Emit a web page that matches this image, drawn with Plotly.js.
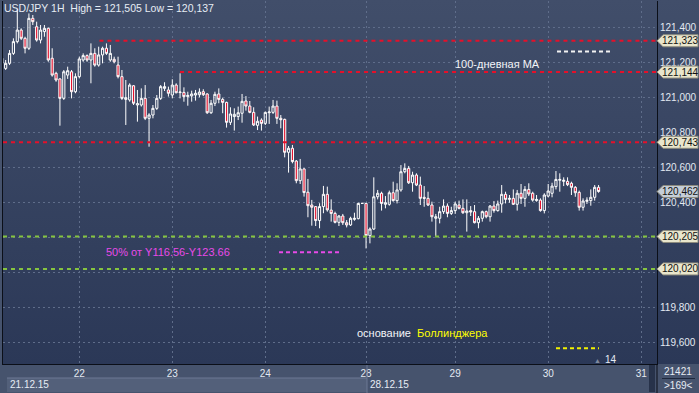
<!DOCTYPE html>
<html><head><meta charset="utf-8">
<script src="https://cdn.plot.ly/plotly-3.0.1.min.js"></script>
<style>
html,body{margin:0;padding:0;background:#46536d;}
#wrap{position:relative;width:699px;height:393px;overflow:hidden;
 background:linear-gradient(to bottom,#414e6a 0%,#2b3857 100%) 3px 0/696px 364px no-repeat,#46536d;}
#chart{position:absolute;left:0;top:0;width:699px;height:393px;}
</style></head>
<body><div id="wrap"><div id="chart"></div></div>
<script>
// ---- data (USD/JPY, 1H bars, 21.12.15 - 30.12.15) ----
const open = [121.194,121.165,121.194,121.251,121.318,121.384,121.337,121.280,121.451,121.403,121.327,121.375,121.394,121.223,121.137,121.105,120.994,121.127,121.146,121.032,121.118,121.213,121.238,121.213,121.251,121.184,121.242,121.280,121.213,121.217,121.184,121.118,120.988,120.985,121.066,120.956,120.956,120.994,120.880,120.899,120.937,120.994,121.051,121.042,
121.013,121.070,121.027,121.028,121.004,121.008,121.013,121.015,121.032,121.019,120.912,120.966,121.019,120.988,120.971,120.857,120.890,120.890,120.909,120.979,120.950,120.914,120.840,120.870,120.851,120.912,120.914,120.950,120.880,120.874,120.686,120.709,120.636,120.524,120.591,120.458,120.385,120.376,120.296,120.376,120.446,120.356,
120.337,120.286,120.322,120.284,120.271,120.303,120.307,120.394,120.394,120.210,120.248,120.432,120.452,120.389,120.389,120.455,120.410,120.471,120.575,120.594,120.512,120.556,120.499,120.429,120.423,120.385,120.309,120.309,120.347,120.379,120.337,120.353,120.385,120.366,120.341,120.353,120.347,120.284,120.309,120.347,120.318,120.379,120.353,120.391,120.446,120.417,120.423,120.389,120.452,120.423,120.474,120.452,120.410,120.413,120.353,120.436,120.452,120.490,120.526,120.520,120.520,120.509,120.486,120.457,120.372,120.406,120.410,120.429,120.486];
const high = [121.242,121.213,121.270,121.337,121.505,121.394,121.346,121.479,121.470,121.432,121.413,121.413,121.398,121.280,121.146,121.108,121.156,121.175,121.156,121.137,121.232,121.251,121.245,121.308,121.280,121.289,121.289,121.308,121.299,121.232,121.232,121.156,121.099,121.080,121.070,121.042,121.051,121.070,120.909,120.956,121.013,121.070,121.086,121.061,
121.103,121.080,121.137,121.057,121.032,121.038,121.042,121.051,121.046,121.023,120.985,121.032,121.051,120.998,120.975,120.943,120.937,120.947,121.019,121.007,120.979,120.943,120.890,120.880,120.918,120.947,120.985,120.981,120.899,120.878,120.722,120.728,120.642,120.648,120.595,120.534,120.414,120.376,120.395,120.494,120.490,120.417,
120.347,120.328,120.334,120.299,120.318,120.341,120.398,120.398,120.398,120.257,120.543,120.471,120.461,120.436,120.467,120.518,120.509,120.613,120.623,120.608,120.575,120.566,120.547,120.493,120.461,120.404,120.334,120.375,120.417,120.394,120.375,120.404,120.410,120.417,120.417,120.379,120.385,120.322,120.353,120.353,120.385,120.408,120.410,120.499,120.461,120.442,120.474,120.471,120.505,120.493,120.509,120.461,120.442,120.423,120.452,120.505,120.512,120.579,120.566,120.543,120.543,120.518,120.493,120.467,120.423,120.429,120.474,120.499,120.499];
const low = [121.156,121.156,121.184,121.242,121.308,121.327,121.251,121.270,121.413,121.318,121.308,121.346,121.203,121.118,121.089,120.838,120.985,121.105,120.994,121.023,121.108,121.203,121.203,121.080,121.175,121.175,121.194,121.242,121.203,121.194,121.108,120.985,120.842,120.975,120.956,120.861,120.947,120.870,120.718,120.880,120.928,120.985,121.036,121.004,
120.994,121.023,120.994,120.975,120.952,120.975,120.981,121.000,121.007,120.905,120.905,120.950,120.966,120.909,120.827,120.842,120.810,120.870,120.855,120.924,120.909,120.836,120.813,120.810,120.842,120.848,120.905,120.848,120.823,120.657,120.570,120.623,120.509,120.505,120.433,120.315,120.267,120.265,120.252,120.338,120.347,120.290,
120.280,120.265,120.271,120.257,120.265,120.295,120.303,120.391,120.137,120.166,120.242,120.417,120.353,120.366,120.381,120.404,120.394,120.461,120.566,120.505,120.461,120.493,120.385,120.375,120.379,120.290,120.208,120.280,120.334,120.315,120.328,120.334,120.360,120.334,120.233,120.322,120.280,120.252,120.290,120.309,120.290,120.341,120.347,120.341,120.394,120.398,120.385,120.353,120.391,120.375,120.436,120.404,120.404,120.347,120.337,120.429,120.429,120.474,120.461,120.493,120.493,120.442,120.432,120.353,120.353,120.391,120.381,120.410,120.455];
const close = [121.223,121.194,121.251,121.318,121.384,121.337,121.280,121.451,121.432,121.327,121.384,121.394,121.213,121.127,121.099,120.994,121.146,121.152,121.032,121.118,121.219,121.238,121.213,121.251,121.184,121.242,121.280,121.251,121.251,121.203,121.118,120.994,120.998,121.070,120.966,120.964,120.994,120.880,120.899,120.937,120.994,121.061,121.061,121.023,
121.070,121.026,121.030,121.004,121.011,121.019,121.023,121.030,121.015,120.912,120.966,121.017,120.988,120.971,120.857,120.905,120.903,120.912,120.977,120.950,120.914,120.842,120.863,120.851,120.914,120.916,120.950,120.880,120.872,120.686,120.709,120.633,120.524,120.591,120.456,120.381,120.372,120.296,120.376,120.446,120.357,120.337,
120.286,120.322,120.284,120.271,120.309,120.309,120.394,120.394,120.210,120.248,120.432,120.452,120.394,120.398,120.455,120.410,120.471,120.575,120.594,120.512,120.556,120.499,120.423,120.423,120.385,120.318,120.318,120.347,120.379,120.337,120.353,120.391,120.366,120.341,120.351,120.345,120.284,120.309,120.347,120.318,120.379,120.353,120.391,120.446,120.417,120.423,120.389,120.452,120.423,120.474,120.448,120.413,120.417,120.353,120.442,120.465,120.493,120.531,120.531,120.526,120.501,120.486,120.455,120.372,120.408,120.412,120.429,120.486,120.462];

// day ticks (bar index of the first hour of each day)
const dayIdx    = [20, 44, 68, 94, 117, 141, 165];
const dayLabels = ['22','23','24','28','29','30','31'];
// price axis ticks (120,200 and 120,000 are covered by the level tags)
const priceTicks  = [119.6,119.8,120.0,120.2,120.4,120.6,120.8,121.0,121.2,121.4];
const priceLabels = ['119,600','119,800','','','120,400','120,600','120,800','121,000','121,200','121,400'];
// horizontal levels
const levelValues = [121.323, 121.144, 120.743, 120.205, 120.020];
const levelStart  = [25.2, 46, 0.31, 0.31, 0.31];
const levelKind   = ['red','red','red','green','green'];
const lastPrice = 120.462;

// ---- drawing ----
const idx = open.map((_, i) => i);
const X_END = 169.08;
const PX = x => (x - 3) / 654;
const PY = y => 1 - (y - 1) / 363;
const fmt = v => v.toFixed(3).replace('.', ',');
const FONT = 'Liberation Sans, Arial, sans-serif';
const colors = {red:'#e5102a', green:'#86c440'};

const shapes = [];
const annotations = [];

levelValues.forEach((v, k) => {
  shapes.push({type:'line', xref:'x', yref:'y', x0:levelStart[k], x1:X_END, y0:v, y1:v,
    line:{color:colors[levelKind[k]], width:2, dash:'4px,4px'}, layer:'above'});
});

// legend samples
shapes.push({type:'line', xref:'paper', yref:'paper', x0:PX(557), x1:PX(613), y0:PY(51.5), y1:PY(51.5), line:{color:'#f2f2f2', width:2, dash:'4px,3px'}});
shapes.push({type:'line', xref:'paper', yref:'paper', x0:PX(279), x1:PX(341), y0:PY(252.3), y1:PY(252.3), line:{color:'#e84ae8', width:2, dash:'4px,3px'}});
shapes.push({type:'line', xref:'paper', yref:'paper', x0:PX(556), x1:PX(599), y0:PY(348.3), y1:PY(348.3), line:{color:'#f2f200', width:2, dash:'4px,3px'}});

// bottom band decorations
shapes.push({type:'rect', xref:'paper', yref:'paper', x0:PX(7), x1:PX(367), y0:PY(392), y1:PY(378), fillcolor:'#53607a', line:{width:0}});
shapes.push({type:'line', xref:'paper', yref:'paper', x0:PX(7), x1:PX(367), y0:PY(378), y1:PY(378), line:{color:'#6c7994', width:1}});
shapes.push({type:'line', xref:'paper', yref:'paper', x0:PX(367), x1:PX(367), y0:PY(365), y1:PY(393), line:{color:'#6c7994', width:1}});
shapes.push({type:'rect', xref:'paper', yref:'paper', x0:PX(649), x1:PX(655), y0:PY(392), y1:PY(365), fillcolor:'#27324a', line:{width:0}});
shapes.push({type:'line', xref:'paper', yref:'paper', x0:PX(657), x1:PX(657), y0:PY(364), y1:PY(393), line:{color:'#0b0f18', width:1}});
shapes.push({type:'line', xref:'paper', yref:'paper', x0:PX(662), x1:PX(695), y0:PY(378.5), y1:PY(378.5), line:{color:'#1e283c', width:1}});

// price tags on the axis
const tagValues = levelValues.concat([lastPrice]);
tagValues.forEach(v => {
  const cur = v === lastPrice;
  shapes.push({type:'path', xref:'paper', yref:'y', xsizemode:'pixel', ysizemode:'pixel', xanchor:1, yanchor:v,
    path:'M0,0 L6,6 L41,6 L41,-6 L6,-6 Z', fillcolor: cur ? '#c5ced8' : '#e9e6cc',
    line:{color:'#8e8c7e', width:1}, layer:'above'});
  annotations.push({xref:'paper', yref:'y', x:1, y:v, xanchor:'left', yanchor:'middle', xshift:3,
    text:fmt(v), showarrow:false, font:{family:FONT, size:10, color:'#111'}});
});

const hi = Math.max(...high), lo = Math.min(...low);
const txt = (x, y, text, opts) => Object.assign({xref:'paper', yref:'paper', x:PX(x), y:PY(y), xanchor:'left', yanchor:'middle',
  text, showarrow:false, font:{family:FONT, size:11, color:'#f2f4f8'}}, opts || {});
annotations.push(txt(2, 8, 'USD/JPY 1H  High = ' + fmt(hi) + ' Low = ' + fmt(lo), {font:{family:FONT, size:10.5, color:'#e6ecf4'}}));
annotations.push(txt(453, 64, '100-дневная MA'));
annotations.push(txt(104, 252.5, '50% от Y116.56-Y123.66', {font:{family:FONT, size:11, color:'#e84ae8'}}));
annotations.push(txt(355, 333, 'основание\u00a0\u00a0<span style="color:#ffff00">Боллинджера</span>'));
annotations.push(txt(597, 360, '▲', {xanchor:'center', font:{family:FONT, size:7, color:'#7f8ba0'}}));
annotations.push(txt(603, 359.5, '14', {font:{family:FONT, size:10, color:'#e6ecf4'}}));
annotations.push(txt(8, 384.5, '21.12.15', {font:{family:FONT, size:10, color:'#e6ecf4'}}));
annotations.push(txt(368, 384.5, '28.12.15', {font:{family:FONT, size:10, color:'#e6ecf4'}}));
annotations.push(txt(678, 371.5, '21421', {xanchor:'center', font:{family:FONT, size:10, color:'#e6ecf4'}}));
annotations.push(txt(678, 385, '>169<', {xanchor:'center', font:{family:FONT, size:10, color:'#e6ecf4'}}));

const trace = {type:'candlestick', x:idx, open, high, low, close,
  increasing:{line:{color:'#ffffff', width:1}, fillcolor:'rgba(0,0,0,0)'},
  decreasing:{line:{color:'#ffffff', width:1}, fillcolor:'#e3132f'},
  whiskerwidth:0, hoverinfo:'skip'};

const gridCol = '#5f6d8a';
const layout = {
  width:699, height:393, margin:{l:3, r:42, t:1, b:29, pad:0},
  paper_bgcolor:'rgba(0,0,0,0)', plot_bgcolor:'rgba(0,0,0,0)',
  showlegend:false, boxgap:0.2,
  xaxis:{type:'linear', range:[0.31, X_END], tickmode:'array', tickvals:dayIdx, ticktext:dayLabels,
    showgrid:true, gridcolor:gridCol, griddash:'2px,3px', gridwidth:1, zeroline:false,
    showline:true, linecolor:'#0b0f18', linewidth:1, ticks:'', rangeslider:{visible:false},
    tickfont:{family:FONT, size:10, color:'#e3e9f1'}, fixedrange:true},
  yaxis:{side:'right', range:[119.477, 121.550], tickmode:'array', tickvals:priceTicks, ticktext:priceLabels,
    showgrid:true, gridcolor:gridCol, griddash:'2px,3px', gridwidth:1, zeroline:false,
    showline:true, mirror:true, linecolor:'#0b0f18', linewidth:1, ticks:'',
    tickfont:{family:FONT, size:10, color:'#e3e9f1'}, fixedrange:true},
  shapes, annotations
};
Plotly.newPlot('chart', [trace], layout, {staticPlot:true, displayModeBar:false});
</script>
</body></html>
